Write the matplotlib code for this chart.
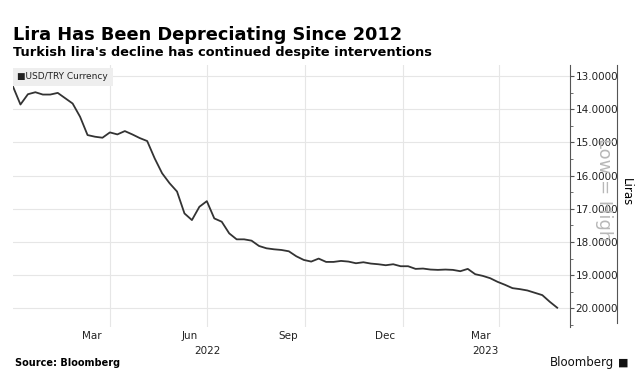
import numpy as np
import pandas as pd
import matplotlib
matplotlib.use("Agg")
import matplotlib.pyplot as plt
from matplotlib.lines import Line2D
from matplotlib.ticker import MultipleLocator, FormatStrFormatter

# weekly USD/TRY closes
dates = pd.date_range("2021-12-31", "2023-05-26", freq="7D")
usdtry = [13.32, 13.86, 13.55, 13.49, 13.56, 13.56, 13.51, 13.67, 13.83, 14.23,
          14.78, 14.83, 14.86, 14.70, 14.76, 14.66, 14.76, 14.87, 14.96, 15.48,
          15.93, 16.23, 16.48, 17.14, 17.34, 16.94, 16.77, 17.29, 17.39, 17.74,
          17.92, 17.92, 17.96, 18.12, 18.19, 18.22, 18.24, 18.28, 18.43, 18.54,
          18.59, 18.50, 18.60, 18.60, 18.57, 18.59, 18.64, 18.61, 18.65, 18.67,
          18.70, 18.67, 18.73, 18.73, 18.81, 18.80, 18.83, 18.84, 18.83, 18.84,
          18.88, 18.81, 18.97, 19.02, 19.09, 19.20, 19.29, 19.39, 19.42, 19.46,
          19.53, 19.60, 19.80, 19.98]

month_labels = ["Mar", "Jun", "Sep", "Dec", "Mar"]
month_pos = pd.to_datetime(["2022-03-15", "2022-06-15", "2022-09-15",
                            "2022-12-15", "2023-03-15"])
grid_pos = pd.to_datetime(["2022-04-01", "2022-07-01", "2022-10-01",
                           "2023-01-01", "2023-04-01"])
year_labels = ["2022", "2023"]
year_pos = pd.to_datetime(["2022-07-02", "2023-03-20"])

fig = plt.figure(figsize=(6.4, 3.83), dpi=100)
ax = fig.add_axes([13/640, 1 - 327/383, (570 - 13)/640, (327 - 65)/383])

ax.plot(dates, usdtry, color="#333333", lw=1.3, zorder=3)

ax.set_xlim(pd.Timestamp("2021-12-31"), pd.Timestamp("2023-06-07"))
ax.set_ylim(20.56, 12.67)

# y axis on the right
ax.yaxis.tick_right()
ax.yaxis.set_major_locator(MultipleLocator(1))
ax.yaxis.set_minor_locator(MultipleLocator(0.5))
ax.yaxis.set_major_formatter(FormatStrFormatter("%.4f"))
ax.tick_params(axis="y", which="major", length=3, width=0.8, color="#555555",
               labelsize=7.5, labelcolor="#222222", pad=1)
ax.tick_params(axis="y", which="minor", length=2, width=0.6, color="#555555")

# x axis: grid at quarter starts, labels mid-month
ax.set_xticks(grid_pos)
ax.set_xticklabels([""] * len(grid_pos))
ax.set_xticks(month_pos, minor=True)
ax.set_xticklabels(month_labels, minor=True)
ax.tick_params(axis="x", which="both", length=0, labelsize=7.5,
               labelcolor="#222222", pad=3)
for d, lab in zip(year_pos, year_labels):
    ax.text(d, -0.072, lab, transform=ax.get_xaxis_transform(), ha="center",
            va="top", fontsize=7.5, color="#222222")

ax.grid(True, which="major", color="#e6e6e6", lw=0.8)
ax.set_axisbelow(True)
for s in ["top", "left", "bottom"]:
    ax.spines[s].set_visible(False)
ax.spines["right"].set_color("#555555")
ax.spines["right"].set_linewidth(0.8)

# legend box
ax.text(0.008, 0.972, "\u25A0USD/TRY Currency", transform=ax.transAxes,
        fontsize=6.5, va="top", ha="left", color="#222222",
        bbox=dict(boxstyle="square,pad=0.5", fc="#eeeeee", ec="none"))

# titles
fig.text(13/640, 1 - 40/383, "Lira Has Been Depreciating Since 2012",
         fontsize=12.8, fontweight="bold", va="baseline")
fig.text(13/640, 1 - 56/383, "Turkish lira's decline has continued despite interventions",
         fontsize=9.3, fontweight="bold", va="baseline")

# right side decorations
fig.add_artist(Line2D([617/640, 617/640], [1 - 65/383, 1 - 323/383],
                      color="#555555", lw=0.8))
fig.text(626/640, 1 - 192/383, "Liras", rotation=-90, fontsize=8.5,
         ha="center", va="center")
fig.text(604/640, 1 - 190/383, "Low = High", rotation=-90, fontsize=13,
         ha="center", va="center", color="#b8b8b8", zorder=0)

# footer
fig.text(15/640, 1 - 366/383, "Source: Bloomberg", fontsize=7,
         fontweight="bold", va="baseline")
fig.text(614/640, 1 - 366/383, "Bloomberg", fontsize=8.5, ha="right",
         va="baseline", color="#111111")
fig.text(623/640, 1 - 366/383, "\u25A0", fontsize=8, ha="center",
         va="baseline", color="#111111")

fig.savefig("out.png", dpi=100)
